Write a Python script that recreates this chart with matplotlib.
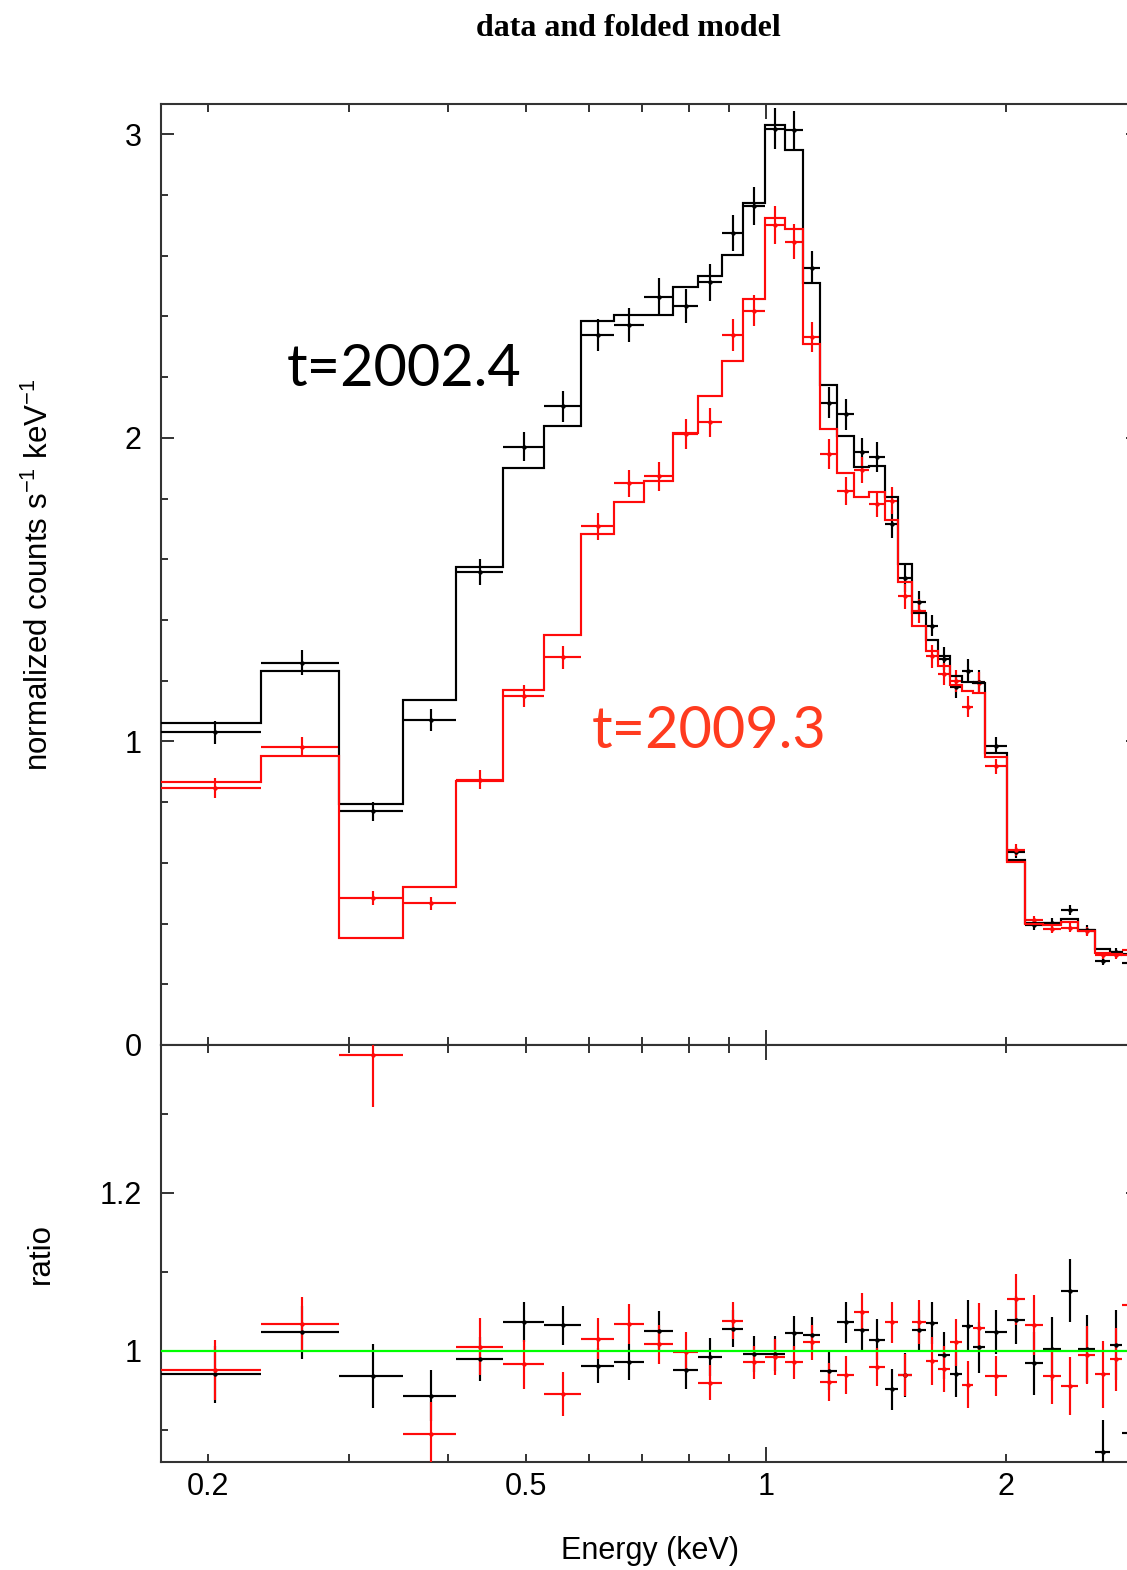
import numpy as np
import matplotlib
matplotlib.use("Agg")
import matplotlib.pyplot as plt
from matplotlib.ticker import FixedLocator, FuncFormatter, MultipleLocator

# Channel grouping shared by both observations (keV)
edges = [0.1745, 0.2330, 0.2916, 0.3513, 0.4088, 0.4684, 0.5270, 0.5864, 0.6440,
         0.7034, 0.7640, 0.8226, 0.8800, 0.9366, 0.997, 1.0564, 1.1135, 1.1687,
         1.2284, 1.2892, 1.3473, 1.4078, 1.4651, 1.5228, 1.5846, 1.6441, 1.7007,
         1.7590, 1.8192, 1.8788, 2.0045, 2.1110, 2.2222, 2.3426, 2.4602, 2.5848,
         2.6985, 2.7930, 2.934]

# Folded model (normalized counts s^-1 keV^-1), epoch 2002.4
model_2002 = [1.062, 1.231, 0.795, 1.135, 1.575, 1.902, 2.039, 2.385, 2.405, 2.405,
              2.497, 2.533, 2.602, 2.775, 3.031, 2.948, 2.511, 2.173, 2.005, 1.904,
              1.909, 1.804, 1.586, 1.423, 1.335, 1.280, 1.214, 1.195, 1.192, 0.963,
              0.611, 0.402, 0.402, 0.414, 0.379, 0.316, 0.305, 0.300]
# data / model ratio and its 1-sigma error, epoch 2002.4
ratio_2002 = [0.970, 1.023, 0.968, 0.943, 0.9895, 1.036, 1.032, 0.981, 0.986, 1.025,
              0.975, 0.992, 1.028, 0.996, 0.996, 1.022, 1.020, 0.974, 1.036, 1.026,
              1.014, 0.951, 0.969, 1.026, 1.035, 0.994, 0.971, 1.031, 1.004, 1.024,
              1.039, 0.984, 1.002, 1.076, 1.002, 0.872, 1.007, 0.896]
rerr_2002 = [0.036, 0.033, 0.0405, 0.032, 0.028, 0.025, 0.025, 0.022, 0.023, 0.025,
             0.023, 0.024, 0.023, 0.023, 0.022, 0.022, 0.022, 0.024, 0.026, 0.025,
             0.026, 0.026, 0.028, 0.025, 0.026, 0.030, 0.030, 0.033, 0.032, 0.028,
             0.030, 0.040, 0.041, 0.040, 0.043, 0.040, 0.044, 0.045]

# Folded model, epoch 2009.3
model_2009 = [0.867, 0.951, 0.353, 0.522, 0.870, 1.168, 1.352, 1.683, 1.790, 1.858,
              2.017, 2.138, 2.253, 2.456, 2.723, 2.687, 2.308, 2.028, 1.883, 1.805,
              1.821, 1.731, 1.525, 1.380, 1.297, 1.250, 1.187, 1.165, 1.160, 0.948,
              0.603, 0.398, 0.396, 0.405, 0.376, 0.304, 0.300, 0.295]
ratio_2009 = [0.976, 1.034, 1.374, 0.895, 1.005, 0.983, 0.945, 1.015, 1.034, 1.008,
              0.998, 0.9595, 1.038, 0.985, 0.992, 0.985, 1.0105, 0.960, 0.969, 1.049,
              0.979, 1.036, 0.969, 1.036, 0.987, 0.977, 1.0105, 0.957, 1.029, 0.968,
              1.065, 1.0325, 0.968, 0.955, 0.9945, 0.970, 0.989, 1.058]
rerr_2009 = [0.038, 0.034, 0.066, 0.040, 0.036, 0.031, 0.028, 0.026, 0.025, 0.025,
             0.025, 0.022, 0.023, 0.021, 0.023, 0.021, 0.022, 0.024, 0.024, 0.024,
             0.024, 0.026, 0.027, 0.028, 0.030, 0.029, 0.030, 0.030, 0.031, 0.025,
             0.032, 0.038, 0.035, 0.037, 0.037, 0.042, 0.040, 0.042]

x_minor_ticks = [0.2, 0.3, 0.4, 0.5, 0.6, 0.7, 0.8, 0.9, 2.0]
x_major_ticks = [1.0]
x_tick_labels = {0.2: "0.2", 0.5: "0.5", 1.0: "1", 2.0: "2"}

plt.rcParams["font.family"] = ["Liberation Sans", "DejaVu Sans"]
plt.rcParams["mathtext.fontset"] = "custom"
plt.rcParams["mathtext.rm"] = "Liberation Sans"
plt.rcParams["mathtext.it"] = "Liberation Sans:italic"

W, H = 1127, 1570
fig = plt.figure(figsize=(W / 100, H / 100), dpi=100)


def rect(x0, y0, x1, y1):
    return [x0 / W, 1 - y1 / H, (x1 - x0) / W, (y1 - y0) / H]


ax = fig.add_axes(rect(161, 104, 1139, 1045))
axr = fig.add_axes(rect(161, 1045, 1139, 1462))

e = np.array(edges)
lo, hi = e[:-1], e[1:]
cen = 0.5 * (lo + hi)
xerr = [cen - lo, hi - cen]

RED = "#ff0a0a"
AXC = "#333333"
LW = 1.55

series = [
    (np.array(model_2002), np.array(ratio_2002), np.array(rerr_2002), "black"),
    (np.array(model_2009), np.array(ratio_2009), np.array(rerr_2009), RED),
]

for model, ratio, rerr, col in series:
    data = model * ratio
    derr = model * rerr
    ax.errorbar(cen, data, xerr=xerr, yerr=derr, fmt="o", ms=2.2, mfc=col, mec=col,
                ecolor=col, elinewidth=LW, capsize=0, zorder=3)
    axr.errorbar(cen, ratio, xerr=xerr, yerr=rerr, fmt="o", ms=2.2, mfc=col, mec=col,
                 ecolor=col, elinewidth=LW, capsize=0, zorder=3)

for model, ratio, rerr, col in series:
    ax.stairs(model, edges, baseline=None, color=col, lw=LW, zorder=4)

axr.axhline(1.0, color="#00ff00", lw=1.6, zorder=5)

for a in (ax, axr):
    a.set_xscale("log")
    a.set_xlim(edges[0], edges[-1])
    a.xaxis.set_major_locator(FixedLocator(x_major_ticks))
    a.xaxis.set_minor_locator(FixedLocator(x_minor_ticks))
    fmt = FuncFormatter(lambda v, p: x_tick_labels.get(round(v, 3), ""))
    a.xaxis.set_major_formatter(fmt)
    a.xaxis.set_minor_formatter(fmt)
    for s in a.spines.values():
        s.set_linewidth(1.5)
        s.set_color(AXC)
    a.tick_params(axis="both", which="both", direction="in", top=True, right=True,
                  width=1.4, color=AXC, labelsize=22, labelcolor="black")
    a.tick_params(axis="y", which="major", length=9.5, pad=14)
    a.tick_params(axis="y", which="minor", length=5)
    a.tick_params(axis="x", which="major", length=11, pad=7.5)
    a.tick_params(axis="x", which="minor", length=6, pad=7.5)
    a.yaxis.set_major_formatter(FuncFormatter(lambda v, p: "%g" % round(v, 2)))

ax.tick_params(axis="x", which="both", labelbottom=False)
ax.set_ylim(0, 3.10)
ax.yaxis.set_major_locator(MultipleLocator(1))
ax.yaxis.set_minor_locator(MultipleLocator(0.2))

axr.set_ylim(0.859, 1.387)
axr.yaxis.set_major_locator(MultipleLocator(0.2))
axr.yaxis.set_minor_locator(MultipleLocator(0.1))

ax.set_ylabel(r"normalized counts s$^{-1}$ keV$^{-1}$", fontsize=22.5)
ax.yaxis.set_label_coords(-0.108, 0.5)
axr.set_ylabel("ratio", fontsize=22.5)
axr.yaxis.set_label_coords(-0.108, 0.5)
axr.set_xlabel("Energy (keV)", fontsize=22)
axr.xaxis.set_label_coords(0.5, -0.177)

fig.text(628 / W, 1 - 28 / H, "data and folded model", family="Liberation Serif",
         weight="bold", fontsize=23, ha="center", va="center")
fig.text(287 / W, 1 - 386 / H, "t=2002.4", family="Lato", fontsize=41.5,
         color="black", ha="left", va="baseline")
fig.text(592 / W, 1 - 748 / H, "t=2009.3", family="Lato", fontsize=41.5,
         color="#ff3b1f", ha="left", va="baseline")

fig.savefig("out.png", dpi=100)
